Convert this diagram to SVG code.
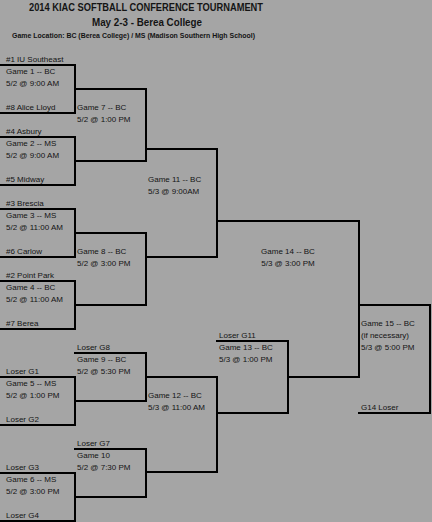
<svg xmlns="http://www.w3.org/2000/svg" width="432" height="522" viewBox="0 0 432 522">
<style>
.bg{fill:#a5a5a5}
text{font-family:"Liberation Sans",Arial,sans-serif;fill:#141414}
.t{font-size:8px}
.h{font-weight:bold;font-size:10.5px}
.s{font-weight:bold;font-size:6.8px}
.ln{fill:none;stroke:#000;stroke-width:2;stroke-linecap:square}
.m{text-anchor:middle}
</style>
<rect class="bg" x="0" y="0" width="432" height="522"/>
<g id="header">
<text class="h" x="29" y="11" textLength="234" lengthAdjust="spacingAndGlyphs">2014 KIAC SOFTBALL CONFERENCE TOURNAMENT</text>
<text class="h" x="92" y="26" textLength="110" lengthAdjust="spacingAndGlyphs">May 2-3 - Berea College</text>
<text class="s" x="12" y="38" textLength="243" lengthAdjust="spacingAndGlyphs">Game Location: BC (Berea College) / MS (Madison Southern High School)</text>
</g>
<g id="connectors">
<path class="ln" d="M0,65 H75 V113 H0"/>
<path class="ln" d="M0,137 H75 V185 H0"/>
<path class="ln" d="M0,209 H75 V257 H0"/>
<path class="ln" d="M0,281 H75 V329 H0"/>
<path class="ln" d="M0,377 H75 V425 H0"/>
<path class="ln" d="M0,473 H75 V521 H0"/>
<path class="ln" d="M75,89 H146 V161 H75"/>
<path class="ln" d="M75,233 H146 V305 H75"/>
<path class="ln" d="M75,353 H146 V401 H75"/>
<path class="ln" d="M75,449 H146 V497 H75"/>
<path class="ln" d="M146,149 H217 V257 H146"/>
<path class="ln" d="M146,377 H217 V472 H146"/>
<path class="ln" d="M217,341 H288 V413 H217"/>
<path class="ln" d="M217,221 H359 V377 H288"/>
<path class="ln" d="M359,305 H430 V413 H359"/>
</g>
<g id="game1">
<text class="t" x="6" y="62">#1 IU Southeast</text>
<text class="t" x="6" y="74">Game 1 -- BC</text>
<text class="t" x="6" y="86">5/2 @ 9:00 AM</text>
<text class="t" x="6" y="110">#8 Alice Lloyd</text>
</g>
<g id="game2">
<text class="t" x="6" y="134">#4 Asbury</text>
<text class="t" x="6" y="146">Game 2 -- MS</text>
<text class="t" x="6" y="158">5/2 @ 9:00 AM</text>
<text class="t" x="6" y="182">#5 Midway</text>
</g>
<g id="game3">
<text class="t" x="6" y="206">#3 Brescia</text>
<text class="t" x="6" y="218">Game 3 -- MS</text>
<text class="t" x="6" y="230">5/2 @ 11:00 AM</text>
<text class="t" x="6" y="254">#6 Carlow</text>
</g>
<g id="game4">
<text class="t" x="6" y="278">#2 Point Park</text>
<text class="t" x="6" y="290">Game 4 -- BC</text>
<text class="t" x="6" y="302">5/2 @ 11:00 AM</text>
<text class="t" x="6" y="326">#7 Berea</text>
</g>
<g id="game5">
<text class="t" x="6" y="374">Loser G1</text>
<text class="t" x="6" y="386">Game 5 -- MS</text>
<text class="t" x="6" y="398">5/2 @ 1:00 PM</text>
<text class="t" x="6" y="422">Loser G2</text>
</g>
<g id="game6">
<text class="t" x="6" y="470">Loser G3</text>
<text class="t" x="6" y="482">Game 6 -- MS</text>
<text class="t" x="6" y="494">5/2 @ 3:00 PM</text>
<text class="t" x="6" y="518">Loser G4</text>
</g>
<g id="game7">
<text class="t" x="77" y="110">Game 7 -- BC</text>
<text class="t" x="77" y="122">5/2 @ 1:00 PM</text>
</g>
<g id="game8">
<text class="t" x="77" y="254">Game 8 -- BC</text>
<text class="t" x="77" y="266">5/2 @ 3:00 PM</text>
</g>
<g id="game9">
<text class="t" x="77" y="350">Loser G8</text>
<text class="t" x="77" y="362">Game 9 -- BC</text>
<text class="t" x="77" y="374">5/2 @ 5:30 PM</text>
</g>
<g id="game10">
<text class="t" x="77" y="446">Loser G7</text>
<text class="t" x="77" y="458">Game 10</text>
<text class="t" x="77" y="470">5/2 @ 7:30 PM</text>
</g>
<g id="game11">
<text class="t" x="148" y="182">Game 11 -- BC</text>
<text class="t" x="148" y="194">5/3 @ 9:00AM</text>
</g>
<g id="game12">
<text class="t" x="148" y="398">Game 12 -- BC</text>
<text class="t" x="148" y="410">5/3 @ 11:00 AM</text>
</g>
<g id="game13">
<text class="t" x="219" y="338">Loser G11</text>
<text class="t" x="219" y="350">Game 13 -- BC</text>
<text class="t" x="219" y="362">5/3 @ 1:00 PM</text>
</g>
<g id="game14">
<text class="t m" x="288" y="254">Game 14 -- BC</text>
<text class="t m" x="288" y="266">5/3 @ 3:00 PM</text>
</g>
<g id="game15">
<text class="t" x="361" y="326">Game 15 -- BC</text>
<text class="t" x="361" y="338">(if necessary)</text>
<text class="t" x="361" y="350">5/3 @ 5:00 PM</text>
<text class="t" x="361" y="410">G14 Loser</text>
</g>
</svg>
